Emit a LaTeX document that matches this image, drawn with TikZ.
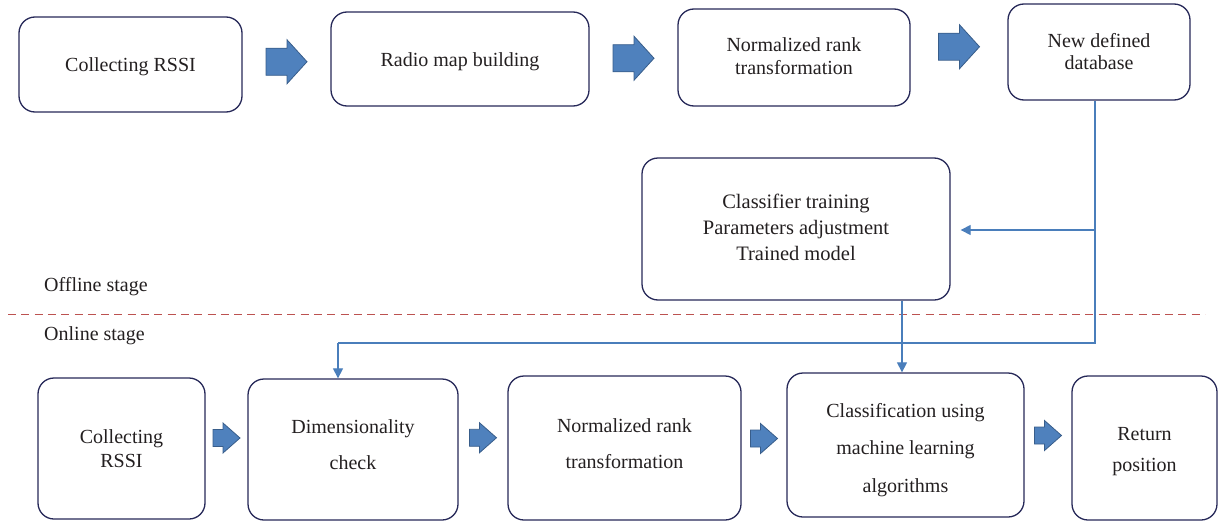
\documentclass[tikz,border=0pt]{standalone}
\usepackage{fontspec}
\setmainfont{Liberation Serif}
\usetikzlibrary{arrows.meta,calc}
\definecolor{boxline}{RGB}{38,40,88}
\definecolor{conncol}{RGB}{74,126,187}
\definecolor{fatfill}{RGB}{79,129,189}
\definecolor{fatline}{RGB}{56,93,138}
\definecolor{dashred}{RGB}{188,82,80}
\definecolor{txt}{RGB}{35,31,32}
\begin{document}
\begin{tikzpicture}[x=1pt,y=-1pt,
  stepbox/.style={draw=boxline,line width=1.3pt,rounded corners=16pt,inner sep=0pt},
  boxtext/.style={align=center,text=txt,inner sep=0pt},
  conn/.style={draw=conncol,line width=1.2pt},
  tipend/.style={-{Triangle[length=10pt,width=10pt]}},
  stagelabel/.style={anchor=base west,text=txt,font=\fontsize{20}{24}\selectfont,inner sep=0pt},
  bigfat/.pic={\path[fill=fatfill,draw=fatline,line width=0.8pt]
     (-20.5,-13.5) -- (0.5,-13.5) -- (0.5,-22) -- (20.5,0) -- (0.5,22) -- (0.5,13.5) -- (-20.5,13.5) -- cycle;},
  smallfat/.pic={\path[fill=fatfill,draw=fatline,line width=0.8pt]
     (-13.5,-8.5) -- (-3.5,-8.5) -- (-3.5,-15) -- (13.5,0) -- (-3.5,15) -- (-3.5,8.5) -- (-13.5,8.5) -- cycle;}
]
\useasboundingbox (0,0) rectangle (1220,527);

% top row
\node[stepbox,minimum width=223pt,minimum height=95pt] (b1) at (130.5,64.5) {};
\node[boxtext,font=\fontsize{20}{23}\selectfont] (b1t) at ($(b1.center)+(0,2)$) {Collecting RSSI};
\node[stepbox,minimum width=258pt,minimum height=94pt] (b2) at (460,59) {};
\node[boxtext,font=\fontsize{20}{23}\selectfont] (b2t) at ($(b2.center)+(0,3)$) {Radio map building};
\node[stepbox,minimum width=232pt,minimum height=97pt] (b3) at (794,57.5) {};
\node[boxtext,font=\fontsize{20}{23}\selectfont] (b3t) at ($(b3.center)+(0,-1)$) {Normalized rank\\transformation};
\node[stepbox,minimum width=182pt,minimum height=96pt] (b4) at (1099,52) {};
\node[boxtext,font=\fontsize{20}{22}\selectfont] (b4t) at (b4.center) {New defined\\database};

% classifier
\node[stepbox,minimum width=308pt,minimum height=142pt] (cls) at (796,229) {};
\node[boxtext,font=\fontsize{20.5}{26}\selectfont] (clst) at ($(cls.center)+(0,-1.5)$) {Classifier training\\Parameters adjustment\\Trained model};

% bottom row
\node[stepbox,minimum width=167pt,minimum height=141pt] (c1) at (121.5,448.5) {};
\node[boxtext,font=\fontsize{20}{24}\selectfont] (c1t) at (c1.center) {Collecting\\RSSI};
\node[stepbox,minimum width=210pt,minimum height=141pt] (c2) at (353,449.5) {};
\node[boxtext,font=\fontsize{20}{36}\selectfont] (c2t) at ($(c2.center)+(0,-5)$) {Dimensionality\\check};
\node[stepbox,minimum width=233pt,minimum height=144pt] (c3) at (624.5,448) {};
\node[boxtext,font=\fontsize{20}{36}\selectfont] (c3t) at ($(c3.center)+(0,-4)$) {Normalized rank\\transformation};
\node[stepbox,minimum width=237pt,minimum height=144pt] (c4) at (905.5,445) {};
\node[boxtext,font=\fontsize{20}{37.5}\selectfont] (c4t) at ($(c4.center)+(0,5)$) {Classification using\\machine learning\\algorithms};
\node[stepbox,minimum width=145pt,minimum height=144pt] (c5) at (1144.5,448) {};
\node[boxtext,font=\fontsize{20}{31}\selectfont] (c5t) at ($(c5.center)+(0,4)$) {Return\\position};

% fat arrows
\pic at ($(b1.east)!0.5!(b2.west)$) {bigfat};
\pic at ($(b2.east)!0.5!(b3.west)$) {bigfat};
\pic at ($(b3.east)!0.5!(b4.west)+(0,-8)$) {bigfat};
\pic at ($(c1.east)!0.5!(c2.west)+(0,-11)$) {smallfat};
\pic at ($(c2.east)!0.5!(c3.west)+(0,-11)$) {smallfat};
\pic at ($(c3.east)!0.5!(c4.west)+(0,-8)$) {smallfat};
\pic at ($(c4.east)!0.5!(c5.west)+(0,-11)$) {smallfat};

% stage separator
\coordinate (dl) at (8,314);
\coordinate (dr) at (1205,314);
\draw[dashred,line width=1pt,dash pattern=on 8pt off 5.3pt] (dl) -- (dr);
\node[stagelabel] (off) at (44,291) {Offline stage};
\node[stagelabel] (on) at (44,340) {Online stage};

% connectors
\coordinate (busR) at (1095,343);
\coordinate (busL) at (338,343);
\coordinate (brR) at (1095,230);
\coordinate (x902) at (902,0);
\draw[conn] (b4.south -| busR) -- (busR) -- (busL);
\draw[conn,tipend] (busL) -- (busL |- c2.north);
\draw[conn,tipend] (brR) -- ([xshift=10pt]cls.east |- brR);
\draw[conn,tipend] (cls.south -| x902) -- (c4.north -| x902);
\end{tikzpicture}
\end{document}
